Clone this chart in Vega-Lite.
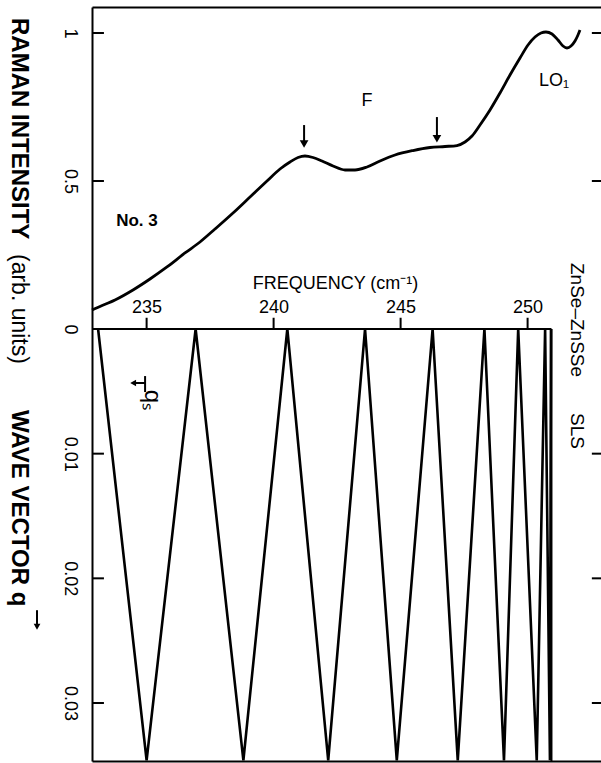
{
  "$schema": "https://vega.github.io/schema/vega-lite/v6.json",
  "width": 509,
  "height": 754,
  "autosize": {"type": "none"},
  "padding": {"left": 92, "top": 7, "right": 0, "bottom": 2},
  "background": "white",
  "config": {
    "view": {"stroke": null},
    "axis": {"grid": false, "ticks": false, "domainColor": "black", "labelColor": "black", "titleColor": "black", "labelFont": "Liberation Sans", "titleFont": "Liberation Sans", "domainWidth": 2},
    "text": {"font": "Liberation Sans", "color": "black"}
  },
  "datasets": {
    "curve": [
      {"f": 232.850, "I": 0.0642}, {"f": 233.165, "I": 0.0760}, {"f": 233.756, "I": 0.0980}, {"f": 234.464, "I": 0.1318},
      {"f": 235.133, "I": 0.1689}, {"f": 235.803, "I": 0.2095}, {"f": 236.512, "I": 0.2568}, {"f": 237.102, "I": 0.2939},
      {"f": 237.693, "I": 0.3378}, {"f": 238.402, "I": 0.3919}, {"f": 239.071, "I": 0.4459}, {"f": 239.740, "I": 0.5000},
      {"f": 240.252, "I": 0.5405}, {"f": 240.646, "I": 0.5642}, {"f": 240.961, "I": 0.5794}, {"f": 241.236, "I": 0.5845},
      {"f": 241.551, "I": 0.5794}, {"f": 241.905, "I": 0.5676}, {"f": 242.339, "I": 0.5507}, {"f": 242.811, "I": 0.5372},
      {"f": 243.205, "I": 0.5372}, {"f": 243.677, "I": 0.5473}, {"f": 244.189, "I": 0.5676}, {"f": 244.780, "I": 0.5878},
      {"f": 245.488, "I": 0.6030}, {"f": 246.157, "I": 0.6132}, {"f": 246.748, "I": 0.6166}, {"f": 247.220, "I": 0.6199},
      {"f": 247.535, "I": 0.6318}, {"f": 247.811, "I": 0.6520}, {"f": 248.126, "I": 0.6892}, {"f": 248.520, "I": 0.7399},
      {"f": 248.913, "I": 0.7973}, {"f": 249.307, "I": 0.8581}, {"f": 249.701, "I": 0.9155}, {"f": 250.016, "I": 0.9595},
      {"f": 250.291, "I": 0.9865}, {"f": 250.528, "I": 1.0000}, {"f": 250.724, "I": 1.0034}, {"f": 250.961, "I": 0.9966},
      {"f": 251.197, "I": 0.9764}, {"f": 251.394, "I": 0.9561}, {"f": 251.551, "I": 0.9493}, {"f": 251.709, "I": 0.9561},
      {"f": 251.866, "I": 0.9730}, {"f": 251.984, "I": 0.9932}, {"f": 252.063, "I": 1.0101}
    ],
    "zig": [
      {"f": 233.09, "q": 0}, {"f": 235.00, "q": 0.0346}, {"f": 236.93, "q": 0}, {"f": 238.81, "q": 0.0346},
      {"f": 240.54, "q": 0}, {"f": 242.15, "q": 0.0346}, {"f": 243.60, "q": 0}, {"f": 244.85, "q": 0.0346},
      {"f": 246.26, "q": 0}, {"f": 247.25, "q": 0.0346}, {"f": 248.30, "q": 0}, {"f": 249.07, "q": 0.0346},
      {"f": 249.63, "q": 0}, {"f": 250.36, "q": 0.0346}, {"f": 250.69, "q": 0}, {"f": 250.88, "q": 0.0346},
      {"f": 250.92, "q": 0}
    ]
  },
  "resolve": {"scale": {"y": "independent"}, "axis": {"x": "independent", "y": "independent"}},
  "layer": [
    {
      "data": {"name": "curve"},
      "mark": {"type": "line", "color": "black", "strokeWidth": 2.8, "interpolate": "monotone"},
      "encoding": {
        "x": {"field": "f", "type": "quantitative", "scale": {"domain": [232.85, 252.89], "nice": false, "zero": false},
          "axis": {"orient": "top", "offset": -322, "values": [235, 240, 245, 250], "labelFontSize": 18, "labelPadding": 13, "labelFlush": false, "domain": false,
            "title": "FREQUENCY (cm⁻¹)", "titleFontSize": 18, "titleFontWeight": "normal", "titlePadding": 6, "titleX": 243}},
        "y": {"field": "I", "type": "quantitative", "scale": {"domain": [-1.45946, 1.08784], "nice": false, "zero": false},
          "axis": {"orient": "left", "values": [0, 0.5, 1], "format": "~g", "labelAngle": 90, "labelAlign": "center", "labelBaseline": "top", "labelFontSize": 18, "labelPadding": 14, "domain": true, "title": null}}
      }
    },
    {
      "data": {"name": "zig"},
      "mark": {"type": "line", "color": "black", "strokeWidth": 2.6},
      "encoding": {
        "x": {"field": "f", "type": "quantitative", "scale": {"domain": [232.85, 252.89], "nice": false, "zero": false},
          "axis": {"orient": "bottom", "labels": false, "domain": true, "title": null}},
        "y": {"field": "q", "type": "quantitative", "scale": {"domain": [-0.025828, 0.034652], "nice": false, "zero": false, "reverse": true},
          "axis": {"orient": "left", "values": [0.01, 0.02, 0.03], "format": ".2f", "labelAngle": 90, "labelAlign": "center", "labelBaseline": "top", "labelFontSize": 18, "labelPadding": 14, "domain": false, "title": null}}
      }
    },
    {
      "data": {"name": "curve"},
      "mark": {"type": "point", "opacity": 0},
      "encoding": {
        "x": {"field": "f", "type": "quantitative", "scale": {"domain": [232.85, 252.89], "nice": false, "zero": false},
          "axis": {"orient": "top", "labels": false, "domain": true, "title": null}},
        "y": {"field": "I", "type": "quantitative", "scale": {"domain": [-1.45946, 1.08784], "nice": false, "zero": false}, "axis": null}
      }
    },
    {
      "data": {"values": [
        {"f": 232.85, "f2": 250.94, "I": 0, "I2": 0},
        {"f": 250.94, "f2": 250.94, "I": 0, "I2": -1.45946},
        {"f": 241.2, "f2": 241.2, "I": 0.689, "I2": 0.625},
        {"f": 246.43, "f2": 246.43, "I": 0.716, "I2": 0.645},
        {"f": 234.52, "f2": 234.94, "I": -0.1824, "I2": -0.1824},
        {"f": 234.94, "f2": 234.94, "I": -0.159, "I2": -0.213},
        {"f": 230.685, "f2": 230.685, "I": -0.950, "I2": -0.998},
        {"f": 232.85, "f2": 233.32, "I": 0.5, "I2": 0.5},
        {"f": 232.85, "f2": 233.32, "I": 1, "I2": 1},
        {"f": 252.53, "f2": 252.89, "I": 0.5, "I2": 0.5},
        {"f": 252.53, "f2": 252.89, "I": 1, "I2": 1},
        {"f": 235, "f2": 235, "I": 0, "I2": 0.038},
        {"f": 240, "f2": 240, "I": 0, "I2": 0.038},
        {"f": 245, "f2": 245, "I": 0, "I2": 0.038},
        {"f": 250, "f2": 250, "I": 0, "I2": 0.038}
      ]},
      "mark": {"type": "rule", "color": "black", "strokeWidth": 2},
      "encoding": {
        "x": {"field": "f", "type": "quantitative", "scale": {"domain": [232.85, 252.89], "nice": false, "zero": false}, "axis": null},
        "x2": {"field": "f2"},
        "y": {"field": "I", "type": "quantitative", "scale": {"domain": [-1.45946, 1.08784], "nice": false, "zero": false}, "axis": null},
        "y2": {"field": "I2"}
      }
    },
    {
      "data": {"values": [
        {"f": 232.85, "f2": 233.32, "q": 0.01, "q2": 0.01},
        {"f": 232.85, "f2": 233.32, "q": 0.02, "q2": 0.02},
        {"f": 232.85, "f2": 233.32, "q": 0.03, "q2": 0.03},
        {"f": 252.53, "f2": 252.89, "q": 0.01, "q2": 0.01},
        {"f": 252.53, "f2": 252.89, "q": 0.02, "q2": 0.02},
        {"f": 252.53, "f2": 252.89, "q": 0.03, "q2": 0.03}
      ]},
      "mark": {"type": "rule", "color": "black", "strokeWidth": 2},
      "encoding": {
        "x": {"field": "f", "type": "quantitative", "scale": {"domain": [232.85, 252.89], "nice": false, "zero": false}, "axis": null},
        "x2": {"field": "f2"},
        "y": {"field": "q", "type": "quantitative", "scale": {"domain": [-0.025828, 0.034652], "nice": false, "zero": false, "reverse": true}, "axis": null},
        "y2": {"field": "q2"}
      }
    },
    {
      "data": {"values": [{"f": 241.2, "I": 0.625}, {"f": 246.43, "I": 0.643}]},
      "mark": {"type": "point", "shape": "triangle-down", "filled": true, "color": "black", "size": 75, "opacity": 1},
      "encoding": {
        "x": {"field": "f", "type": "quantitative", "scale": {"domain": [232.85, 252.89], "nice": false, "zero": false}, "axis": null},
        "y": {"field": "I", "type": "quantitative", "scale": {"domain": [-1.45946, 1.08784], "nice": false, "zero": false}, "axis": null}
      }
    },
    {
      "data": {"values": [{"f": 230.685, "I": -1.006}]},
      "mark": {"type": "point", "shape": "triangle-down", "filled": true, "color": "black", "size": 45, "opacity": 1},
      "encoding": {
        "x": {"field": "f", "type": "quantitative", "scale": {"domain": [232.85, 252.89], "nice": false, "zero": false}, "axis": null},
        "y": {"field": "I", "type": "quantitative", "scale": {"domain": [-1.45946, 1.08784], "nice": false, "zero": false}, "axis": null}
      }
    },
    {
      "data": {"values": [{"f": 234.47, "I": -0.1824}]},
      "mark": {"type": "point", "shape": "triangle-left", "filled": true, "color": "black", "size": 45, "opacity": 1},
      "encoding": {
        "x": {"field": "f", "type": "quantitative", "scale": {"domain": [232.85, 252.89], "nice": false, "zero": false}, "axis": null},
        "y": {"field": "I", "type": "quantitative", "scale": {"domain": [-1.45946, 1.08784], "nice": false, "zero": false}, "axis": null}
      }
    },
    {
      "data": {"values": [{"f": 234.62, "I": 0.365, "t": "No. 3"}]},
      "mark": {"type": "text", "fontSize": 17, "fontWeight": "bold", "align": "center", "baseline": "middle"},
      "encoding": {
        "x": {"field": "f", "type": "quantitative", "scale": {"domain": [232.85, 252.89], "nice": false, "zero": false}, "axis": null},
        "y": {"field": "I", "type": "quantitative", "scale": {"domain": [-1.45946, 1.08784], "nice": false, "zero": false}, "axis": null},
        "text": {"field": "t"}
      }
    },
    {
      "data": {"values": [{"f": 243.68, "I": 0.770, "t": "F"}, {"f": 251.04, "I": 0.8395, "t": "LO₁"}]},
      "mark": {"type": "text", "fontSize": 18, "align": "center", "baseline": "middle"},
      "encoding": {
        "x": {"field": "f", "type": "quantitative", "scale": {"domain": [232.85, 252.89], "nice": false, "zero": false}, "axis": null},
        "y": {"field": "I", "type": "quantitative", "scale": {"domain": [-1.45946, 1.08784], "nice": false, "zero": false}, "axis": null},
        "text": {"field": "t"}
      }
    },
    {
      "data": {"values": [{"f": 251.94, "I": 0.223, "t": "ZnSe–ZnSSe"}, {"f": 251.94, "I": -0.284, "t": "SLS"}]},
      "mark": {"type": "text", "fontSize": 19, "angle": 90, "align": "left", "baseline": "middle"},
      "encoding": {
        "x": {"field": "f", "type": "quantitative", "scale": {"domain": [232.85, 252.89], "nice": false, "zero": false}, "axis": null},
        "y": {"field": "I", "type": "quantitative", "scale": {"domain": [-1.45946, 1.08784], "nice": false, "zero": false}, "axis": null},
        "text": {"field": "t"}
      }
    },
    {
      "data": {"values": [{"f": 229.98, "I": 1.0507, "t": "RAMAN INTENSITY"}, {"f": 229.98, "I": -0.2736, "t": "WAVE VECTOR q"}]},
      "mark": {"type": "text", "fontSize": 24, "fontWeight": "bold", "angle": 90, "align": "left", "baseline": "middle"},
      "encoding": {
        "x": {"field": "f", "type": "quantitative", "scale": {"domain": [232.85, 252.89], "nice": false, "zero": false}, "axis": null},
        "y": {"field": "I", "type": "quantitative", "scale": {"domain": [-1.45946, 1.08784], "nice": false, "zero": false}, "axis": null},
        "text": {"field": "t"}
      }
    },
    {
      "data": {"values": [{"f": 229.98, "I": 0.2534, "t": "(arb. units)"}]},
      "mark": {"type": "text", "fontSize": 23, "angle": 90, "align": "left", "baseline": "middle"},
      "encoding": {
        "x": {"field": "f", "type": "quantitative", "scale": {"domain": [232.85, 252.89], "nice": false, "zero": false}, "axis": null},
        "y": {"field": "I", "type": "quantitative", "scale": {"domain": [-1.45946, 1.08784], "nice": false, "zero": false}, "axis": null},
        "text": {"field": "t"}
      }
    },
    {
      "data": {"values": [{"f": 235.2, "I": -0.240, "t": "qₛ"}]},
      "mark": {"type": "text", "fontSize": 24, "angle": 90, "align": "center", "baseline": "middle"},
      "encoding": {
        "x": {"field": "f", "type": "quantitative", "scale": {"domain": [232.85, 252.89], "nice": false, "zero": false}, "axis": null},
        "y": {"field": "I", "type": "quantitative", "scale": {"domain": [-1.45946, 1.08784], "nice": false, "zero": false}, "axis": null},
        "text": {"field": "t"}
      }
    }
  ]
}
